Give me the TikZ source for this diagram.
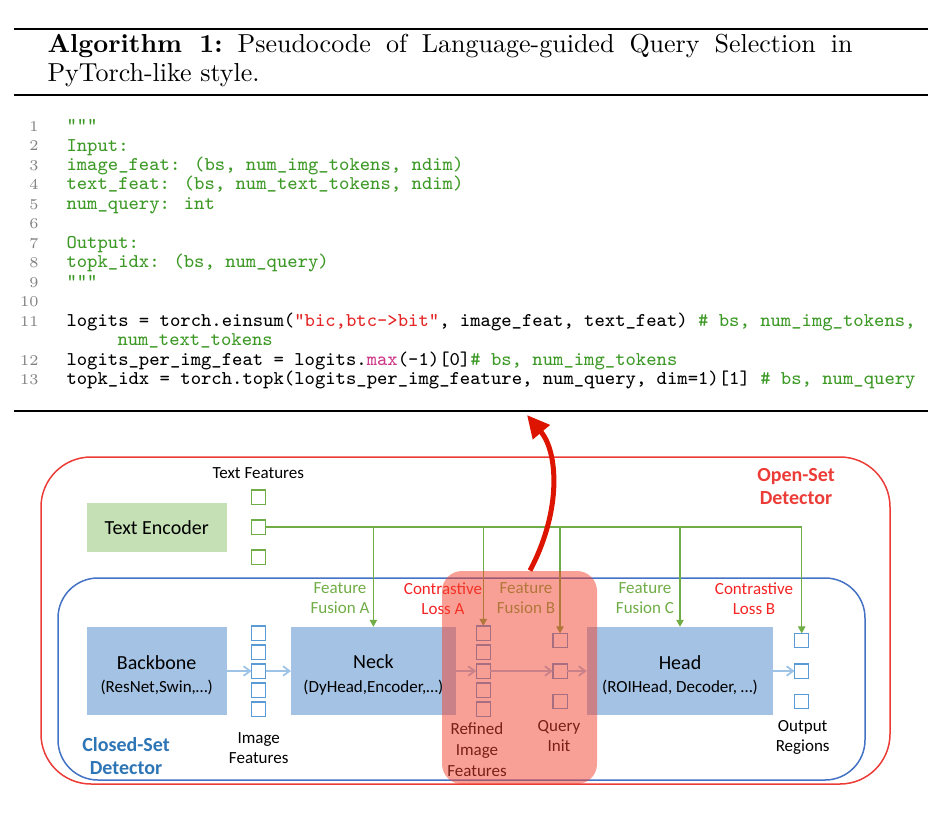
\documentclass[tikz,border=0pt]{standalone}
\usepackage{fontspec}
\newfontfamily\carlito{Carlito}
\usetikzlibrary{arrows.meta}

\definecolor{encgreen}{RGB}{197,224,180}
\definecolor{featgreen}{RGB}{112,173,71}
\definecolor{boxblue}{RGB}{164,194,228}
\definecolor{sqblue}{RGB}{91,155,213}
\definecolor{flowblue}{RGB}{157,195,230}
\definecolor{openred}{RGB}{236,60,55}
\definecolor{lossred}{RGB}{245,35,35}
\definecolor{innerblue}{RGB}{68,114,196}
\definecolor{closedblue}{RGB}{46,117,182}
\definecolor{hilite}{RGB}{243,65,45}
\definecolor{bigred}{RGB}{220,20,0}
\definecolor{codegreen}{RGB}{61,153,38}
\definecolor{strred}{RGB}{228,38,38}
\definecolor{kwpink}{RGB}{205,55,135}

\tikzset{
  algotitle/.style={anchor=base west,inner sep=0pt,font=\fontsize{10.4}{12.5}\selectfont},
  lineno/.style={anchor=base east,inner sep=0pt,text=gray,font=\fontsize{6}{7}\selectfont},
  code/.style={anchor=base west,inner sep=0pt,font=\ttfamily\fontsize{7.8}{7.8}\selectfont},
  algorule/.style={line width=0.8pt},
  module/.style={rectangle,fill=boxblue,minimum height=35.4pt,inner sep=0pt,outer sep=0pt},
  modtext/.style={align=center,inner sep=0pt,font=\carlito\fontsize{8}{9.4}\selectfont},
  textenc/.style={rectangle,fill=encgreen,minimum width=56pt,minimum height=19.6pt,
    inner sep=0pt,outer sep=0pt,font=\carlito\fontsize{8}{9.4}\selectfont},
  txtfeat/.style={rectangle,draw=featgreen,fill=white,line width=0.5pt,minimum size=5.7pt,
    inner sep=0pt,outer sep=0pt},
  imgfeat/.style={txtfeat,draw=sqblue},
  lbl/.style={align=center,font=\carlito\fontsize{6.8}{8}\selectfont},
  fusionlbl/.style={lbl,text=featgreen},
  losslbl/.style={lbl,text=lossred},
  setlbl/.style={align=center,font=\carlito\bfseries\fontsize{8}{9.2}\selectfont},
  fusion/.style={draw=featgreen,line width=0.45pt},
  fusionarrow/.style={fusion,-{Triangle[length=2.8pt,width=3pt]}},
  flow/.style={draw=flowblue,line width=0.7pt,-{Straight Barb[length=2.6pt,width=3.8pt]}},
  highlight/.style={rectangle,fill=hilite,fill opacity=0.5,rounded corners=8pt,
    minimum width=62pt,minimum height=85.2pt,inner sep=0pt},
  bigarrow/.style={draw=bigred,line width=2pt,-{Triangle[length=9pt,width=8.5pt]}},
}

\begin{document}
\begin{tikzpicture}[x=0.4pt,y=-0.4pt]
\useasboundingbox (0,0) rectangle (940,814);

% algorithm caption
\draw[algorule] (14,29) -- (928,29);
\node[algotitle] (cap1) at (47,52)
  {\makebox[322pt][s]{\textbf{Algorithm 1:}\ Pseudocode of Language-guided Query Selection in}};
\node[algotitle] (cap2) at (47,81) {PyTorch-like style.};
\draw[algorule] (14,95) -- (928,95);

% line numbers
\foreach \n/\r in {1/1,2/2,3/3,4/4,5/5,6/6,7/7,8/8,9/9,10/10,11/11,12/13,13/14}
  \node[lineno] (ln\n) at (39,{131.5+(\r-1)*19.46}) {\n};

% code
\node[code,text=codegreen] (code1) at (66,131.5) {"""};
\node[code,text=codegreen] (code2) at (66,151) {Input:};
\node[code,text=codegreen] (code3) at (66,170.4) {image\_feat: (bs, num\_img\_tokens, ndim)};
\node[code,text=codegreen] (code4) at (66,189.9) {text\_feat: (bs, num\_text\_tokens, ndim)};
\node[code,text=codegreen] (code5) at (66,209.3) {num\_query: int};
\node[code,text=codegreen] (code7) at (66,248.3) {Output:};
\node[code,text=codegreen] (code8) at (66,267.7) {topk\_idx: (bs, num\_query)};
\node[code,text=codegreen] (code9) at (66,287.2) {"""};
\node[code] (code11) at (66,326.1) {logits = torch.einsum(\textcolor{strred}{"bic,btc->bit"}, image\_feat, text\_feat) \textcolor{codegreen}{\# bs, num\_img\_tokens,}};
\node[code,text=codegreen] (code11b) at (117,345.6) {num\_text\_tokens};
\node[code] (code12) at (66,365) {logits\_per\_img\_feat = logits.\textcolor{kwpink}{max}(-1)[0]\textcolor{codegreen}{\# bs, num\_img\_tokens}};
\node[code] (code13) at (66,384.5) {topk\_idx = torch.topk(logits\_per\_img\_feature, num\_query, dim=1)[1] \textcolor{codegreen}{\# bs, num\_query}};
\draw[algorule] (14,411) -- (928,411);

% detector frames
\draw[openred,line width=0.6pt,rounded corners=20pt] (41,457) rectangle (890,784);
\draw[innerblue,line width=0.6pt,rounded corners=16pt] (58,578) rectangle (865,780);
\node[setlbl,text=openred] (openset) at (796,487) {Open-Set\\Detector};
\node[setlbl,text=closedblue] (closedset) at (126,756) {Closed-Set\\Detector};

% text branch
\node[textenc] (textenc) at (156.7,527.5) {Text Encoder};
\node[lbl] (tflabel) at (258.3,473) {Text Features};
\node[txtfeat] (tf1) at (258.3,497) {};
\node[txtfeat] (tf2) at (258.3,527) {};
\node[txtfeat] (tf3) at (258.3,557) {};

% closed-set pipeline
\node[module,minimum width=56pt] (backbone) at (156.7,671) {};
\node[module,minimum width=65.9pt] (neck) at (373.4,671) {};
\node[module,minimum width=74.6pt] (head) at (680,671) {};
\node[modtext] (backbonetext) at (156.7,675) {Backbone\\{\fontsize{6.8}{8}\selectfont(ResNet,Swin,…)}};
\node[modtext] (necktext) at (373.4,675) {Neck\\{\fontsize{6.8}{8}\selectfont(DyHead,Encoder,…)}};
\node[modtext] (headtext) at (680,675) {Head\\{\fontsize{6.8}{8}\selectfont(ROIHead, Decoder, …)}};

\foreach \i/\y in {1/633,2/652,3/671,4/690,5/709} {
  \node[imgfeat] (img\i) at (258.7,\y) {};
  \node[imgfeat] (ref\i) at (483.3,\y) {};
}
\foreach \i/\y in {1/640.5,2/671,3/701.5} {
  \node[imgfeat] (qry\i) at (560,\y) {};
  \node[imgfeat] (out\i) at (801.7,\y) {};
}

\node[lbl] (imglabel) at (258.7,748) {Image\\Features};
\node[lbl,font=\carlito\fontsize{6.8}{8.4}\selectfont] (reflabel) at (477,750) {Refined\\Image\\Features};
\node[lbl] (qrylabel) at (559,736) {Query\\Init};
\node[lbl] (outlabel) at (802.7,737) {Output\\Regions};

\node[fusionlbl] (fusa) at (340,598.5) {Feature\\Fusion A};
\node[losslbl] (lossa) at (443,598.5) {Contrastive\\Loss A};
\node[fusionlbl] (fusb) at (526,598.5) {Feature\\Fusion B};
\node[fusionlbl] (fusc) at (645,598.5) {Feature\\Fusion C};
\node[losslbl] (lossb) at (754,598.5) {Contrastive\\Loss B};

% image flow
\draw[flow] (backbone.east) -- (img3.west);
\draw[flow] (img3.east) -- (neck.west);
\draw[flow] (neck.east) -- (ref3.west);
\draw[flow] (ref3.east) -- (qry2.west);
\draw[flow] (qry2.east) -- (head.west);
\draw[flow] (head.east) -- (out2.west);

% text features into the detector
\draw[fusion] (tf2.east) -- (tf2.east -| out1.north);
\draw[fusionarrow] (tf2.east -| neck.north) -- (neck.north);
\draw[fusionarrow] (tf2.east -| ref1.north) -- (ref1.north);
\draw[fusionarrow] (tf2.east -| qry1.north) -- (qry1.north);
\draw[fusionarrow] (tf2.east -| head.north) -- (head.north);
\draw[fusionarrow] (tf2.east -| out1.north) -- (out1.north);

% query selection
\node[highlight] (sel) at (519.5,677.5) {};
\coordinate (algo) at (527,415);
\draw[bigarrow] ([xshift=4.2pt]sel.north) .. controls (562,510) and (558,452) .. (algo);
\end{tikzpicture}
\end{document}
